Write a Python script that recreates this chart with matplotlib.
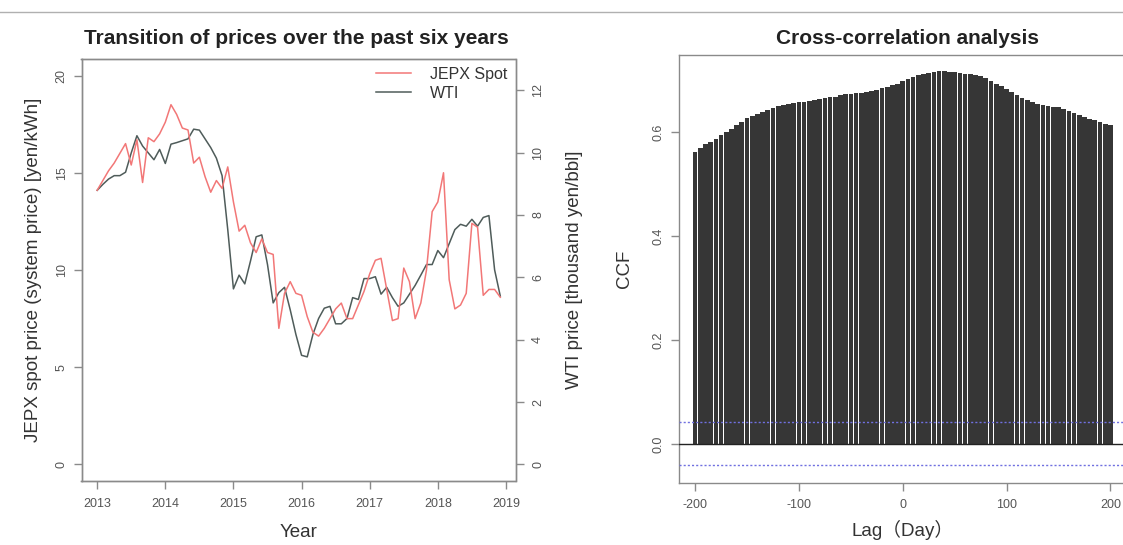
import numpy as np
import matplotlib
matplotlib.use("Agg")
import matplotlib.pyplot as plt
from matplotlib.lines import Line2D

plt.rcParams['font.family'] = ['Liberation Sans', 'Noto Sans CJK JP', 'DejaVu Sans']
plt.rcParams['axes.unicode_minus'] = False

# ---------------- data ----------------
start_year = 2013
jepx_spot = [14.1, 14.6, 15.1, 15.5, 16.0, 16.5, 15.4, 16.7, 14.5, 16.8, 16.6, 17.0,
             17.6, 18.5, 18.0, 17.3, 17.2, 15.5, 15.8, 14.8, 14.0, 14.6, 14.2, 15.3,
             13.5, 12.0, 12.3, 11.4, 10.9, 11.6, 10.9, 10.8, 7.0, 8.8, 9.4, 8.8,
             8.7, 7.6, 6.8, 6.6, 7.0, 7.5, 8.0, 8.3, 7.5, 7.5, 8.2, 8.9,
             9.8, 10.5, 10.6, 9.0, 7.4, 7.5, 10.1, 9.4, 7.5, 8.3, 10.0, 13.0,
             13.5, 15.0, 9.5, 8.0, 8.2, 8.8, 12.4, 12.2, 8.7, 9.0, 9.0, 8.6]
wti_price = [8.79, 8.98, 9.15, 9.26, 9.26, 9.37, 9.99, 10.54, 10.21, 9.99, 9.77, 10.10,
             9.65, 10.27, 10.32, 10.38, 10.44, 10.75, 10.72, 10.44, 10.16, 9.82, 9.26, 7.53,
             5.63, 6.07, 5.79, 6.52, 7.30, 7.36, 6.41, 5.18, 5.51, 5.68, 4.96, 4.17,
             3.50, 3.45, 4.17, 4.68, 5.01, 5.07, 4.51, 4.51, 4.68, 5.35, 5.29, 5.96,
             5.96, 6.02, 5.46, 5.68, 5.35, 5.07, 5.18, 5.46, 5.74, 6.07, 6.41, 6.41,
             6.86, 6.63, 7.08, 7.53, 7.70, 7.64, 7.86, 7.64, 7.92, 7.98, 6.24, 5.40]
year_ticks = [2013, 2014, 2015, 2016, 2017, 2018, 2019]
left_ticks = [0, 5, 10, 15, 20]
right_ticks = [0, 2, 4, 6, 8, 10, 12]

ccf_lags = list(range(-200, 201, 5))
ccf_values = [0.563, 0.570, 0.577, 0.582, 0.588, 0.595, 0.601, 0.607, 0.614, 0.620,
              0.627, 0.632, 0.636, 0.640, 0.644, 0.647, 0.650, 0.652, 0.655, 0.657,
              0.658, 0.659, 0.660, 0.662, 0.664, 0.666, 0.668, 0.669, 0.671, 0.673,
              0.674, 0.675, 0.676, 0.677, 0.679, 0.682, 0.685, 0.688, 0.691, 0.694,
              0.698, 0.702, 0.706, 0.710, 0.713, 0.715, 0.716, 0.718, 0.718, 0.717,
              0.716, 0.714, 0.713, 0.712, 0.710, 0.708, 0.704, 0.699, 0.694, 0.689,
              0.684, 0.678, 0.672, 0.667, 0.662, 0.658, 0.655, 0.653, 0.651, 0.649,
              0.648, 0.645, 0.642, 0.638, 0.634, 0.630, 0.626, 0.623, 0.620, 0.617, 0.614]
conf_limit = 0.0415
lag_ticks = [-200, -100, 0, 100, 200]
ccf_ticks = [0.0, 0.2, 0.4, 0.6]

# ---------------- style ----------------
RED = '#f27777'
GRAY_LINE = '#4f5c5a'
AX_COL = '#8a8a8a'
TICK_TXT = '#555555'
LBL_TXT = '#333333'
TITLE_FS = 15
LABEL_FS = 13.5

fig = plt.figure(figsize=(11.23, 5.45), dpi=100)
W, H = 1123, 545

# separator line at top
fig.add_artist(Line2D([0, 1], [1 - 11.5 / H, 1 - 11.5 / H], color='#b0b0b0', lw=1.0))


def box_axes(l, r, t, b):
    return fig.add_axes([l / W, 1 - b / H, (r - l) / W, (b - t) / H])


def style_axes(ax):
    for s in ax.spines.values():
        s.set_color(AX_COL)
        s.set_linewidth(1.0)
    ax.tick_params(colors=AX_COL, labelcolor=TICK_TXT, length=6, width=1.0,
                   labelsize=9)

# ---------------- left panel ----------------
ax1 = box_axes(81.5, 515.5, 59, 481)
x_months = start_year + np.arange(len(jepx_spot)) / 12.0
ax2 = ax1.twinx()
l1, = ax1.plot(x_months, jepx_spot, color=RED, lw=1.1, zorder=3)
l2, = ax2.plot(x_months, wti_price, color=GRAY_LINE, lw=1.1, zorder=2)
ax1.set_zorder(ax2.get_zorder() + 1)
ax1.patch.set_visible(False)

ax1.set_xlim(2012.77, 2019.14)
ax1.set_ylim(-0.85, 20.85)
ax2.set_ylim(-0.53, 13.0)
ax1.set_xticks(year_ticks)
ax1.set_xticklabels([str(y) for y in year_ticks])
ax1.set_yticks(left_ticks)
ax1.set_yticklabels([str(v) for v in left_ticks], rotation=90, va='center')
ax2.set_yticks(right_ticks)
ax2.set_yticklabels([str(v) for v in right_ticks], rotation=90, va='center')
style_axes(ax1)
style_axes(ax2)
ax1.tick_params(axis='x', pad=6)
ax1.tick_params(axis='y', pad=4)
ax2.tick_params(axis='y', pad=6)

fig.text(296 / W, 1 - 38 / H, 'Transition of prices over the past six years',
         fontsize=TITLE_FS, fontweight='bold', color='#222222', ha='center', va='center')
ax1.set_xlabel('Year', fontsize=LABEL_FS, color=LBL_TXT, labelpad=10)
ax1.set_ylabel('JEPX spot price (system price) [yen/kWh]', fontsize=LABEL_FS,
               color=LBL_TXT, labelpad=10)
ax2.set_ylabel('WTI price [thousand yen/bbl]', fontsize=LABEL_FS, color=LBL_TXT,
               labelpad=16)
leg = ax1.legend([l1, l2], ['JEPX Spot', 'WTI'], loc='upper right', frameon=False,
                 fontsize=11.5, handlelength=2.2, handletextpad=1.2,
                 borderaxespad=0.1, labelspacing=0.25)
for t in leg.get_texts():
    t.set_color(LBL_TXT)

# ---------------- right panel ----------------
ax3 = box_axes(678.5, 1127, 55, 482.5)
ax3.bar(ccf_lags, ccf_values, width=4.5, color='#363636', edgecolor='none', zorder=2)
ax3.axhline(0, color='#222222', lw=1.0, zorder=3)
for c in (conf_limit, -conf_limit):
    ax3.axhline(c, color='#7070e0', lw=1.0, ls=(0, (1.5, 1.5)), zorder=4)
ax3.set_xlim(-216, 216)
ax3.set_ylim(-0.0745, 0.749)
ax3.set_xticks(lag_ticks)
ax3.set_xticklabels([str(v) for v in lag_ticks])
ax3.set_yticks(ccf_ticks)
ax3.set_yticklabels(['%.1f' % v for v in ccf_ticks], rotation=90, va='center')
style_axes(ax3)
ax3.tick_params(axis='x', pad=6)
ax3.tick_params(axis='y', pad=4)
fig.text(907 / W, 1 - 38 / H, 'Cross-correlation analysis', fontsize=TITLE_FS,
         fontweight='bold', color='#222222', ha='center', va='center')
ax3.set_xlabel('Lag（Day）', fontsize=LABEL_FS, color=LBL_TXT, labelpad=6)
ax3.set_ylabel('CCF', fontsize=LABEL_FS, color=LBL_TXT, labelpad=14)

fig.savefig('out.png', dpi=100)
